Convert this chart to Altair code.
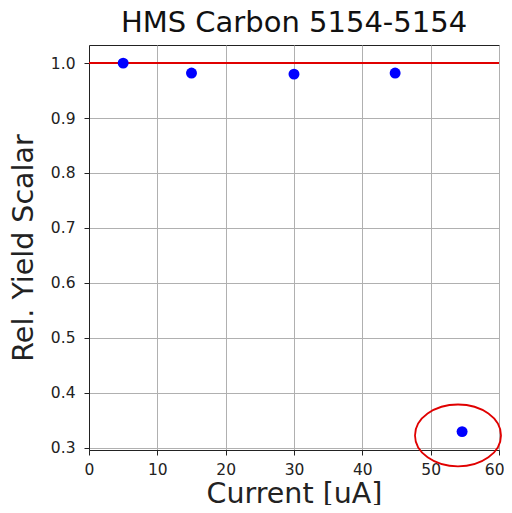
import altair as alt
import pandas as pd

current = [5, 15, 30, 44.8, 54.6]
rel_yield = [1.0, 0.982, 0.980, 0.982, 0.329]
ref_level = [1.0]
highlight_x = [54.0]
highlight_y = [0.322]

FONT = "DejaVu Sans"

pts = pd.DataFrame({"current": current, "yield": rel_yield})
ref = pd.DataFrame({"y": ref_level})
hl = pd.DataFrame({"x": highlight_x, "y": highlight_y})

xscale = alt.Scale(domain=[0, 60], nice=False, zero=False)
yscale = alt.Scale(domain=[0.2955, 1.033], nice=False, zero=False)

xaxis = alt.Axis(title="Current [uA]", values=[0, 10, 20, 30, 40, 50, 60], format="d",
                 grid=True, gridColor="#b0b0b0", gridWidth=1, labelFlush=False,
                 labelAlign=alt.condition("datum.value >= 60", alt.value("right"), alt.value("center")),
                 labelOffset=alt.condition("datum.value >= 60", alt.value(5), alt.value(0)),
                 domainColor="#222222", tickColor="#222222", tickSize=5,
                 labelFont=FONT, labelFontSize=15.5, labelColor="#222222", labelPadding=7,
                 titleFont=FONT, titleFontSize=28.5, titleFontWeight="normal",
                 titleColor="#222222", titleBaseline="alphabetic", titleY=52)
yaxis = alt.Axis(title="Rel. Yield Scalar", values=[0.3, 0.4, 0.5, 0.6, 0.7, 0.8, 0.9, 1.0],
                 format=".1f", grid=True, gridColor="#b0b0b0", gridWidth=1, labelFlush=False,
                 domainColor="#222222", tickColor="#222222", tickSize=5,
                 labelFont=FONT, labelFontSize=15.5, labelColor="#222222", labelPadding=9,
                 titleFont=FONT, titleFontSize=28.5, titleFontWeight="normal",
                 titleColor="#222222", titlePadding=12)

points = alt.Chart(pts).mark_point(filled=True, color="#0000ff", size=120, opacity=1).encode(
    x=alt.X("current:Q", scale=xscale, axis=xaxis),
    y=alt.Y("yield:Q", scale=yscale, axis=yaxis),
)

rule = alt.Chart(ref).mark_rule(color="#e00000", strokeWidth=2).encode(
    y=alt.Y("y:Q", scale=yscale)
)

ellipse_path = "M -1 0 A 1 0.72 0 1 0 1 0 A 1 0.72 0 1 0 -1 0 Z"
ellipse = alt.Chart(hl).mark_point(shape=ellipse_path, filled=False, color="#e00000",
                                   strokeWidth=1.8, size=7400, opacity=1).encode(
    x=alt.X("x:Q", scale=xscale),
    y=alt.Y("y:Q", scale=yscale),
)

chart = alt.layer(rule, points, ellipse).properties(
    width=410, height=405,
    title=alt.TitleParams("HMS Carbon 5154-5154", font=FONT, fontSize=29,
                          fontWeight="normal", color="#111111", offset=7),
    autosize=alt.AutoSizeParams(type="none"),
    padding={"left": 81, "top": 37, "right": 5, "bottom": 55},
).configure_view(stroke="#222222", strokeWidth=1)

chart.save("out.html", embed_options={"renderer": "svg", "actions": False})
